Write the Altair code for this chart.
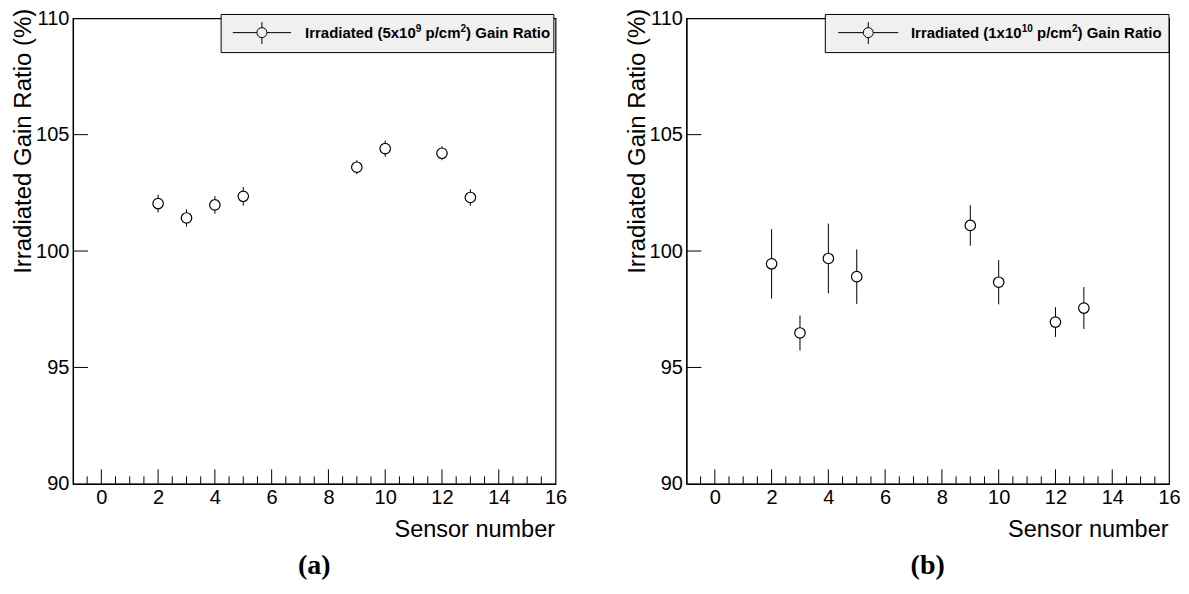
import altair as alt
import pandas as pd

# ---- data ----
sensors = [2, 3, 4, 5, 9, 10, 12, 13]
ratio_a = [102.04, 101.42, 101.98, 102.35, 103.60, 104.40, 104.20, 102.30]
err_a = [0.38, 0.37, 0.38, 0.40, 0.30, 0.35, 0.30, 0.35]
ratio_b = [99.45, 96.48, 99.68, 98.90, 101.10, 98.66, 96.95, 97.55]
err_b = [1.49, 0.75, 1.50, 1.17, 0.87, 0.95, 0.64, 0.90]

x_labels = [0, 2, 4, 6, 8, 10, 12, 14, 16]
y_labels = [90, 95, 100, 105, 110]
x_major_ticks = [0, 2, 4, 6, 8, 10, 12, 14]
x_minor_ticks = [-0.5, 0.5, 1, 1.5, 2.5, 3, 3.5, 4.5, 5, 5.5, 6.5, 7, 7.5,
                 8.5, 9, 9.5, 10.5, 11, 11.5, 12.5, 13, 13.5, 14.5, 15, 15.5]
y_major_ticks = [95, 100, 105]

# legend text pieces: (text, is_superscript)
legend_a = [("Irradiated (5x10", False), ("9", True), (" p/cm", False),
            ("2", True), (") Gain Ratio", False)]
legend_b = [("Irradiated (1x10", False), ("10", True), (" p/cm", False),
            ("2", True), (") Gain Ratio", False)]
caption_a = "(a)"
caption_b = "(b)"

x_title = "Sensor number"
y_title = "Irradiated Gain Ratio (%)"

SANS = "Liberation Sans"
SERIF = "Liberation Serif"
W, H = 483, 466
LEG_FS, SUP_FS = 15, 10

# Arial/Liberation Sans Bold advance widths (per 1000 em) for text layout
BOLD_ADV = {"I": 278, "r": 389, "a": 556, "d": 611, "i": 278, "t": 333, "e": 556,
            " ": 278, "(": 333, ")": 333, "x": 556, "p": 611, "/": 278, "c": 556,
            "m": 889, "G": 778, "n": 611, "R": 722, "o": 611}


def text_width(s, size):
    return sum(BOLD_ADV.get(ch, 556) for ch in s) * size / 1000.0


def panel(ratio, err, legend_pieces, caption, box_x0, box_x1, sym_x0, sym_x1, text_x):
    df = pd.DataFrame({
        "sensor": sensors,
        "ratio": ratio,
        "lo": [r - e for r, e in zip(ratio, err)],
        "hi": [r + e for r, e in zip(ratio, err)],
    })
    xs = alt.Scale(domain=[-1, 16], nice=False, zero=False)
    ys = alt.Scale(domain=[90, 110], nice=False, zero=False)
    one = pd.DataFrame({"k": [0]})

    box = alt.Chart(one).mark_rect(fill="#f0f0f0", stroke="black", strokeWidth=1).encode(
        x=alt.value(box_x0), x2=alt.value(box_x1), y=alt.value(-3.8), y2=alt.value(34.4))

    bars = alt.Chart(df).mark_rule(color="black", strokeWidth=1).encode(
        x=alt.X("sensor:Q", scale=xs, axis=None),
        y=alt.Y("lo:Q", scale=ys, axis=None),
        y2="hi:Q")

    pts = alt.Chart(df).mark_circle(fill="white", stroke="black", strokeWidth=1.2,
                                    size=110, opacity=1).encode(
        x=alt.X("sensor:Q", scale=xs, axis=alt.Axis(
            values=x_labels, ticks=False, grid=False, labelFontSize=20, labelFont=SANS,
            labelColor="black", labelPadding=4, labelFlush=False, labelOverlap=False,
            domainColor="black", domainWidth=1.2,
            title=x_title, titleFont=SANS, titleFontSize=23.5, titleFontWeight="normal",
            titleColor="black", titleX=W - 1, titleY=53, titleAlign="right",
            titleBaseline="alphabetic")),
        y=alt.Y("ratio:Q", scale=ys, axis=alt.Axis(
            values=y_labels, ticks=False, grid=False, labelFontSize=20, labelFont=SANS,
            labelColor="black", labelPadding=4, labelFlush=False, labelOverlap=False,
            labelBaseline="middle", domainColor="black", domainWidth=1.2,
            title=y_title, titleFont=SANS, titleFontSize=24, titleFontWeight="normal",
            titleColor="black", titleX=-42, titleY=-10, titleAngle=270,
            titleAlign="right", titleBaseline="alphabetic")))

    xmaj = alt.Chart(pd.DataFrame({"t": x_major_ticks})).mark_rule(color="black").encode(
        x=alt.X("t:Q", scale=xs, axis=None), y=alt.value(H), y2=alt.value(H - 14.5))
    xmin = alt.Chart(pd.DataFrame({"t": x_minor_ticks})).mark_rule(color="black").encode(
        x=alt.X("t:Q", scale=xs, axis=None), y=alt.value(H), y2=alt.value(H - 7.5))
    ymaj = alt.Chart(pd.DataFrame({"t": y_major_ticks})).mark_rule(color="black").encode(
        y=alt.Y("t:Q", scale=ys, axis=None), x=alt.value(0), x2=alt.value(15))

    sym_c = (sym_x0 + sym_x1) / 2
    sym_y = 14.4
    sym_line = alt.Chart(one).mark_rule(color="black", strokeWidth=1).encode(
        x=alt.value(sym_x0), x2=alt.value(sym_x1), y=alt.value(sym_y))
    sym_bar = alt.Chart(one).mark_rule(color="black", strokeWidth=1).encode(
        x=alt.value(sym_c), y=alt.value(sym_y - 10.5), y2=alt.value(sym_y + 11.5))
    sym_pt = alt.Chart(one).mark_circle(fill="#f0f0f0", stroke="black", strokeWidth=1,
                                        size=100, opacity=1).encode(
        x=alt.value(sym_c), y=alt.value(sym_y))

    layers = [box, bars, pts, xmaj, xmin, ymaj, sym_line, sym_bar, sym_pt]

    # legend label, laid out piece by piece (superscripts raised and smaller)
    cx = text_x
    base_y = 20.2
    for piece, sup in legend_pieces:
        fs = SUP_FS if sup else LEG_FS
        lead = len(piece) - len(piece.lstrip(" "))
        cx += text_width(" " * lead, fs)
        shown = piece.lstrip(" ")
        layers.append(alt.Chart(one).mark_text(
            text=shown, align="left", baseline="alphabetic", font=SANS,
            fontWeight="bold", fontSize=fs, color="black").encode(
            x=alt.value(cx), y=alt.value(base_y - 6.5 if sup else base_y)))
        cx += text_width(shown, fs)

    cap = alt.Chart(one).mark_text(text=caption, align="center", baseline="middle",
                                   font=SERIF, fontWeight="bold", fontSize=28,
                                   color="black").encode(
        x=alt.value(W / 2), y=alt.value(548))
    layers.append(cap)

    return alt.layer(*layers).resolve_axis(x="independent", y="independent"
                                           ).properties(width=W, height=H)


pa = panel(ratio_a, err_a, legend_a, caption_a, 148.3, 481.3, 160, 218.3, 232.3)
pb = panel(ratio_b, err_b, legend_b, caption_b, 139, 483, 152, 212, 224.7)

chart = alt.hconcat(pa, pb, spacing=131, bounds="flush").properties(
    padding={"left": 3, "top": -1, "right": 0, "bottom": 0},
    background="white",
).configure_view(stroke="black", strokeWidth=1.2)

chart.save("out.html", embed_options={"renderer": "svg", "actions": False})
